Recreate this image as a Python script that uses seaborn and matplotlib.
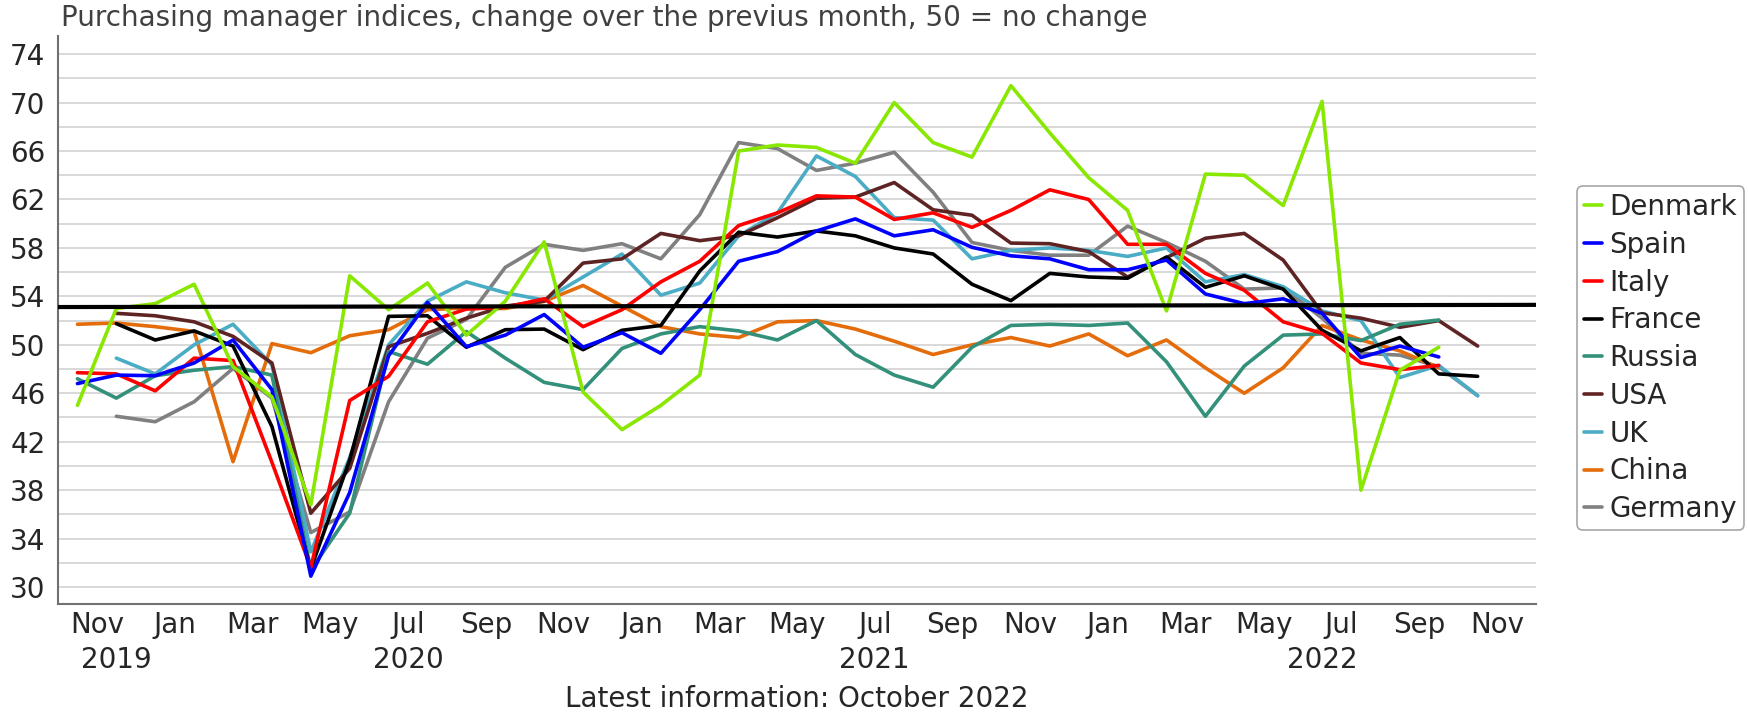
import numpy as np
import pandas as pd
import matplotlib
matplotlib.use("Agg")
import matplotlib.pyplot as plt
import matplotlib.transforms as mtransforms
import seaborn as sns

# Monthly values, Oct 2019 .. Oct 2022 (nan = no value)
nan = np.nan
month_index = np.arange(37)

denmark = [45.0, 53.0, 53.4, 55.0, 48.2, 45.7, 36.8, 55.7, 52.9, 55.1, 50.8, 53.6,
           58.5, 46.1, 43.0, 45.0, 47.5, 66.0, 66.5, 66.3, 65.0, 70.0, 66.7, 65.5,
           71.4, 67.5, 63.8, 61.1, 52.8, 64.1, 64.0, 61.5, 70.1, 38.0, 47.9, 49.8, nan]
spain = [46.8, 47.5, 47.45, 48.5, 50.4, 46.3, 30.9, 37.8, 49.1, 53.5, 49.85, 50.8,
         52.5, 49.8, 51.0, 49.3, 52.9, 56.9, 57.7, 59.4, 60.4, 59.0, 59.5, 58.05,
         57.35, 57.1, 56.2, 56.2, 57.0, 54.2, 53.4, 53.8, 52.6, 48.95, 49.9, 49.0, nan]
italy = [47.7, 47.6, 46.2, 48.9, 48.7, 40.3, 31.6, 45.4, 47.4, 51.9, 52.95, 53.1,
         53.8, 51.5, 52.9, 55.2, 56.9, 59.85, 60.9, 62.3, 62.2, 60.35, 60.9, 59.7,
         61.1, 62.8, 62.0, 58.3, 58.3, 55.9, 54.5, 51.9, 50.95, 48.5, 47.95, 48.3, nan]
france = [nan, 51.75, 50.4, 51.15, 49.9, 43.25, 31.5, 40.5, 52.35, 52.4, 49.8, 51.25,
          51.3, 49.6, 51.2, 51.6, 56.1, 59.3, 58.9, 59.4, 59.0, 58.0, 57.5, 55.0,
          53.65, 55.9, 55.6, 55.5, 57.25, 54.75, 55.7, 54.6, 51.2, 49.5, 50.6, 47.6, 47.4]
russia = [47.2, 45.6, 47.45, 47.9, 48.2, 47.5, 31.4, 36.1, 49.45, 48.4, 51.1, 48.9,
          46.9, 46.3, 49.7, 50.9, 51.5, 51.15, 50.4, 52.0, 49.2, 47.5, 46.5, 49.8,
          51.6, 51.7, 51.6, 51.8, 48.6, 44.1, 48.25, 50.8, 50.9, 50.35, 51.7, 52.05, nan]
usa = [nan, 52.6, 52.4, 51.9, 50.7, 48.5, 36.1, 39.8, 49.85, 50.95, 52.2, 53.2,
       53.6, 56.75, 57.1, 59.2, 58.6, 59.0, 60.5, 62.1, 62.2, 63.4, 61.15, 60.7,
       58.4, 58.35, 57.7, 55.6, 57.2, 58.8, 59.2, 57.0, 52.65, 52.2, 51.45, 52.0, 49.9]
uk = [nan, 48.9, 47.6, 50.0, 51.7, 48.35, 32.9, 40.7, 50.0, 53.6, 55.2, 54.3,
      53.7, 55.6, 57.5, 54.1, 55.1, 59.0, 60.9, 65.6, 63.9, 60.5, 60.3, 57.1,
      57.8, 58.0, 57.8, 57.3, 58.0, 55.2, 55.8, 54.8, 52.8, 52.0, 47.3, 48.3, 45.8]
china = [51.7, 51.8, 51.5, 51.1, 40.35, 50.1, 49.35, 50.75, 51.25, 52.9, 53.05, 53.0,
         53.6, 54.9, 53.2, 51.5, 50.9, 50.6, 51.9, 52.0, 51.3, 50.3, 49.2, 50.0,
         50.6, 49.9, 50.9, 49.1, 50.4, 48.1, 46.0, 48.1, 51.6, 50.4, 49.5, 48.1, nan]
germany = [nan, 44.1, 43.65, 45.3, 48.05, 45.6, 34.5, 36.2, 45.3, 50.55, 52.1, 56.4,
           58.3, 57.8, 58.35, 57.1, 60.75, 66.7, 66.2, 64.4, 65.0, 65.9, 62.6, 58.45,
           57.8, 57.4, 57.4, 59.8, 58.45, 56.9, 54.6, 54.7, 52.2, 49.3, 49.15, 48.2, 45.8]

countries = ["Denmark", "Spain", "Italy", "France", "Russia", "USA", "UK", "China", "Germany"]
series = [denmark, spain, italy, france, russia, usa, uk, china, germany]
colors = ["#88E800", "#0000FF", "#FF0000", "#000000", "#33907A",
          "#5E2424", "#4BACC6", "#E46C0A", "#808080"]

trend_level = [53.12, 53.30]   # black reference line, left and right ends

tick_labels = ["Nov", "Jan", "Mar", "May", "Jul", "Sep"] * 3 + ["Nov"]
years = ["2019", "2020", "2021", "2022"]
year_centre = [1.0, 8.5, 20.5, 32.0]   # middle of each year's visible span

df = pd.DataFrame({"month": month_index})
for name, vals in zip(countries, series):
    df[name] = vals
long = df.melt(id_vars="month", var_name="country", value_name="pmi").dropna()

sns.set_style("white")
plt.rcParams["font.family"] = ["DejaVu Sans"]
FS = 20

fig = plt.figure(figsize=(17.48, 7.12), dpi=100)
ax = fig.add_axes([58 / 1748, 1 - 604 / 712, (1536 - 58) / 1748, (604 - 36) / 712])

for y in np.arange(30, 76, 2):
    ax.axhline(y, color="#D2D2D2", lw=1.2, zorder=0)

palette = dict(zip(countries, colors))
for name in reversed(countries):
    sub = long[long["country"] == name]
    sns.lineplot(data=sub, x="month", y="pmi", color=palette[name], lw=2.6,
                 label=name, ax=ax, zorder=3, estimator=None)

ax.plot([-0.5, 37.5], trend_level, color="black", lw=3, zorder=4)

ax.set_xlim(-0.5, 37.5)
ax.set_ylim(28.6, 75.5)

ax.set_xticks(np.arange(0.5, 37.5, 2))
ax.set_xticklabels(tick_labels, fontsize=FS)
ax.tick_params(axis="x", direction="in", length=4, color="#707070", pad=5)

ax.set_yticks(np.arange(30, 76, 2))
ax.set_yticklabels([str(v) if (v - 30) % 4 == 0 else "" for v in range(30, 76, 2)],
                   fontsize=FS)
ax.tick_params(axis="y", direction="out", length=5, color="#707070", pad=4)

for s in ["top", "right"]:
    ax.spines[s].set_visible(False)
for s in ["left", "bottom"]:
    ax.spines[s].set_color("#707070")
    ax.spines[s].set_linewidth(1.5)

ax.set_xlabel("")
ax.set_ylabel("")

trans = mtransforms.blended_transform_factory(ax.transData, ax.transAxes)
for yr, xc in zip(years, year_centre):
    ax.text(xc, -0.099, yr, transform=trans, ha="center", va="center", fontsize=FS)

fig.text(0.035, 0.975, "Purchasing manager indices, change over the previus month, 50 = no change",
         fontsize=FS, color="#404040", ha="left", va="center")
fig.text((58 + 1536) / 2 / 1748, 0.018, "Latest information: October 2022",
         fontsize=FS, ha="center", va="center")

handles, labels = ax.get_legend_handles_labels()
order = [labels.index(c) for c in countries]
leg = ax.legend([handles[i] for i in order], [labels[i] for i in order],
                loc="center left", bbox_to_anchor=(1.028, 0.433), fontsize=FS,
                handlelength=0.63, handletextpad=0.28, labelspacing=0.35,
                borderpad=0.25, borderaxespad=0, frameon=True, fancybox=True)
leg.get_frame().set_edgecolor("#909090")
leg.get_frame().set_linewidth(1.2)

fig.savefig("out.png", dpi=100, facecolor="white")
